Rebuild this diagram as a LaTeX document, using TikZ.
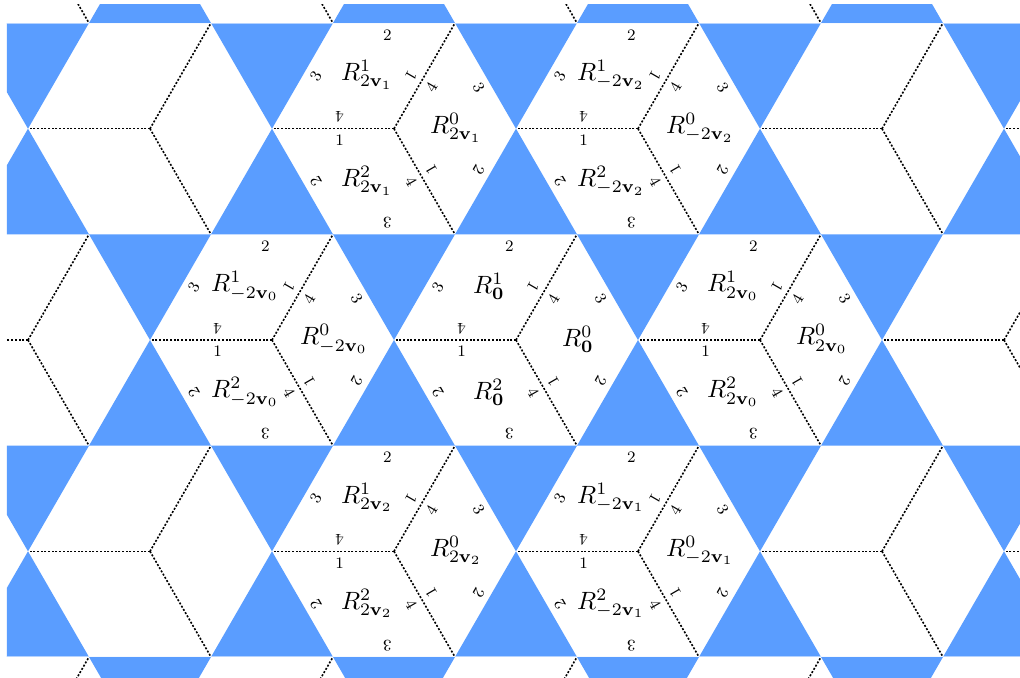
\documentclass[tikz,border=0pt]{standalone}
\definecolor{tblue}{RGB}{90,157,255}
\tikzset{
 tri/.style={fill=tblue},
 dashln/.style={line width=0.8pt, dash pattern=on 1pt off 0.85pt, black},
 elab/.style={font=\fontsize{8}{9}\selectfont, inner sep=0pt},
 rlab/.style={font=\fontsize{10}{12}\selectfont, inner sep=0pt},
 seam/.style={white, opacity=0.55, line width=0.5pt},
}
\newcommand{\bigR}[2]{\scalebox{1.25}{$R^{#1}_{#2}$}}
\newcommand{\hexlab}[4]{%
 \begin{scope}[shift={(#1,#2)}]
  \foreach \r/\k in {0/1,-120/0,120/2}{
   \begin{scope}[rotate=\r, transform shape]
    \node[elab, rotate=180] (#4-\k-a) at (-54.3,11.6) {4};
    \node[elab, rotate=60] (#4-\k-b) at (-78.1,52.8) {3};
    \node[elab] (#4-\k-c) at (-6.7,94) {2};
    \node[elab, rotate=-120] (#4-\k-d) at (17.1,52.8) {1};
   \end{scope}
  }
  \node[rlab] (#4-R1) at (-27,54) {\bigR{1}{#3}};
  \node[rlab] (#4-R0) at (62,1) {\bigR{0}{#3}};
  \node[rlab] (#4-R2) at (-27,-52) {\bigR{2}{#3}};
 \end{scope}}
\begin{document}
\begin{tikzpicture}[x=0.5pt,y=0.5pt]
\useasboundingbox (-516,-337) rectangle (504,340);
\fill[white] (-516,-337) rectangle (504,340);
\begin{scope}
\clip (-509,-337) rectangle (504,336);
\foreach \j in {-3,...,3}{
 \foreach \i in {-4,...,4}{
  \pgfmathsetmacro\cx{244*\i+122*\j}
  \pgfmathsetmacro\cy{211.31*\j}
  \fill[tri] ({\cx-61},{\cy+105.655}) -- ({\cx+61},{\cy+105.655}) -- (\cx,{\cy+211.31}) -- cycle;
  \fill[tri] ({\cx-61},{\cy-105.655}) -- ({\cx+61},{\cy-105.655}) -- (\cx,{\cy-211.31}) -- cycle;
 }}
\foreach \j in {-3,...,3}{
 \foreach \i in {-4,...,4}{
  \pgfmathsetmacro\cx{244*\i+122*\j}
  \pgfmathsetmacro\cy{211.31*\j}
  \coordinate (c) at (\cx,\cy);
  \draw[dashln] (c) -- ++(-122,0);
  \draw[dashln] (c) -- ++(61,105.655);
  \draw[dashln] (c) -- ++(61,-105.655);
 }}
\draw[seam] (-509,316.97) -- (504,316.97);
\draw[seam] (-509,-316.97) -- (504,-316.97);
\end{scope}
\hexlab{-122}{211.31}{2\mathbf{v}_1}{hA}
\hexlab{122}{211.31}{-2\mathbf{v}_2}{hB}
\hexlab{-244}{0}{-2\mathbf{v}_0}{hC}
\hexlab{0}{0}{\mathbf{0}}{hD}
\hexlab{244}{0}{2\mathbf{v}_0}{hE}
\hexlab{-122}{-211.31}{2\mathbf{v}_2}{hF}
\hexlab{122}{-211.31}{-2\mathbf{v}_1}{hG}
\end{tikzpicture}
\end{document}
